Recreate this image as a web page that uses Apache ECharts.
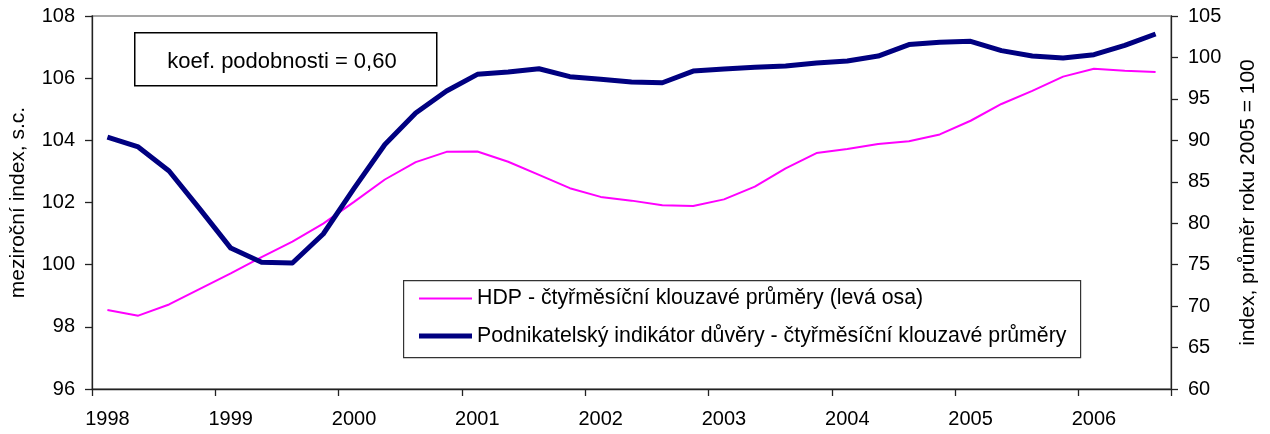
<!DOCTYPE html>
<html>
<head>
<meta charset="utf-8">
<script src="https://cdn.jsdelivr.net/npm/echarts@6/dist/echarts.min.js"></script>
<style>
html,body{margin:0;padding:0;background:#fff;}
#chart{width:1270px;height:434px;}
</style>
</head>
<body>
<div id="chart"></div>
<script>
// Quarterly categories 1998Q1 .. 2006Q3
const categories = [
  '1998Q1','1998Q2','1998Q3','1998Q4',
  '1999Q1','1999Q2','1999Q3','1999Q4',
  '2000Q1','2000Q2','2000Q3','2000Q4',
  '2001Q1','2001Q2','2001Q3','2001Q4',
  '2002Q1','2002Q2','2002Q3','2002Q4',
  '2003Q1','2003Q2','2003Q3','2003Q4',
  '2004Q1','2004Q2','2004Q3','2004Q4',
  '2005Q1','2005Q2','2005Q3','2005Q4',
  '2006Q1','2006Q2','2006Q3'
];
// HDP - four-month moving averages (left axis)
const hdp = [
  98.54, 98.36, 98.72, 99.22,
  99.72, 100.24, 100.74, 101.32,
  102.02, 102.74, 103.30, 103.63,
  103.64, 103.31, 102.89, 102.46,
  102.18, 102.06, 101.91, 101.89,
  102.10, 102.51, 103.10, 103.59,
  103.72, 103.88, 103.97, 104.19,
  104.63, 105.17, 105.59, 106.05,
  106.30, 106.24, 106.20
];
// Business confidence indicator (right axis)
const confidence = [
  90.4, 89.2, 86.3, 81.7,
  77.0, 75.3, 75.2, 78.7,
  84.2, 89.5, 93.3, 95.95,
  97.96, 98.24, 98.64, 97.68,
  97.36, 97.04, 96.95, 98.36,
  98.6, 98.81, 98.97, 99.33,
  99.57, 100.17, 101.55, 101.83,
  101.95, 100.82, 100.17, 99.93,
  100.33, 101.45, 102.83
];
const seriesNames = [
  'HDP - čtyřměsíční klouzavé průměry (levá osa)',
  'Podnikatelský indikátor důvěry - čtyřměsíční klouzavé průměry'
];
const leftAxisName = 'meziroční index, s.c.';
const rightAxisName = 'index, průměr roku 2005 = 100';
const annotationText = 'koef. podobnosti = 0,60';

const FONT = '"Liberation Sans", Arial, sans-serif';
const chart = echarts.init(document.getElementById('chart'), null, {renderer: 'canvas'});
const axisLineStyle = {color: '#222', width: 1.3};

chart.setOption({
  animation: false,
  backgroundColor: '#fff',
  textStyle: {fontFamily: FONT, color: '#000'},
  grid: {
    left: 90, right: 99, top: 16, bottom: 45,
    show: true, borderColor: '#888', borderWidth: 1.3, backgroundColor: 'transparent'
  },
  legend: {
    orient: 'vertical',
    left: 414, top: 283,
    itemWidth: 53, itemHeight: 10, itemGap: 16.5,
    symbolKeepAspect: true,
    textStyle: {fontFamily: FONT, fontSize: 21.3, color: '#000', lineHeight: 21, padding: [0,0,0,0]},
    data: [
      {name: seriesNames[0], icon: 'path://M0,0L53,0L53,2L0,2Z'},
      {name: seriesNames[1], icon: 'path://M0,0L53,0L53,5L0,5Z'}
    ]
  },
  xAxis: {
    type: 'category',
    data: categories,
    boundaryGap: true,
    axisLine: {lineStyle: axisLineStyle},
    axisTick: {show: true, interval: 3, length: 7, inside: false, lineStyle: axisLineStyle},
    axisLabel: {
      interval: 3, margin: 20, fontSize: 20, fontFamily: FONT, color: '#000',
      formatter: v => v.slice(0, 4)
    },
    splitLine: {show: false}
  },
  yAxis: [
    {
      type: 'value', position: 'left', min: 96, max: 108, interval: 2,
      name: leftAxisName, nameLocation: 'middle', nameGap: 63, nameRotate: 90,
      nameTextStyle: {fontSize: 21, fontFamily: FONT, color: '#000'},
      axisLine: {show: true, lineStyle: axisLineStyle},
      axisTick: {show: true, length: 7, lineStyle: axisLineStyle},
      axisLabel: {margin: 17, fontSize: 20, fontFamily: FONT, color: '#000'},
      splitLine: {show: false}
    },
    {
      type: 'value', position: 'right', min: 60, max: 105, interval: 5,
      name: rightAxisName, nameLocation: 'middle', nameGap: 67, nameRotate: 90,
      nameTextStyle: {fontSize: 21, fontFamily: FONT, color: '#000'},
      axisLine: {show: true, lineStyle: axisLineStyle},
      axisTick: {show: true, length: 7, lineStyle: axisLineStyle},
      axisLabel: {margin: 17, fontSize: 20, fontFamily: FONT, color: '#000'},
      splitLine: {show: false}
    }
  ],
  series: [
    {
      name: seriesNames[0], type: 'line', yAxisIndex: 0, data: hdp,
      symbol: 'none', showSymbol: false,
      itemStyle: {color: '#FF00FF'},
      lineStyle: {color: '#FF00FF', width: 2},
      z: 2
    },
    {
      name: seriesNames[1], type: 'line', yAxisIndex: 1, data: confidence,
      symbol: 'none', showSymbol: false,
      itemStyle: {color: '#000080'},
      lineStyle: {color: '#000080', width: 5, join: 'round'},
      z: 3
    }
  ],
  graphic: [
    {
      type: 'rect', left: 134, top: 32, z: 10,
      shape: {width: 302, height: 53},
      style: {fill: '#fff', stroke: '#000', lineWidth: 1.5}
    },
    {
      type: 'text', x: 282, y: 62, z: 11,
      style: {text: annotationText, fontSize: 22, fontFamily: FONT, fill: '#000',
              align: 'center', verticalAlign: 'middle'}
    },
    {
      type: 'rect', left: 403, top: 280, z: 0,
      shape: {width: 677, height: 77},
      style: {fill: '#fff', stroke: '#333', lineWidth: 1.2}
    }
  ]
});
</script>
</body>
</html>
